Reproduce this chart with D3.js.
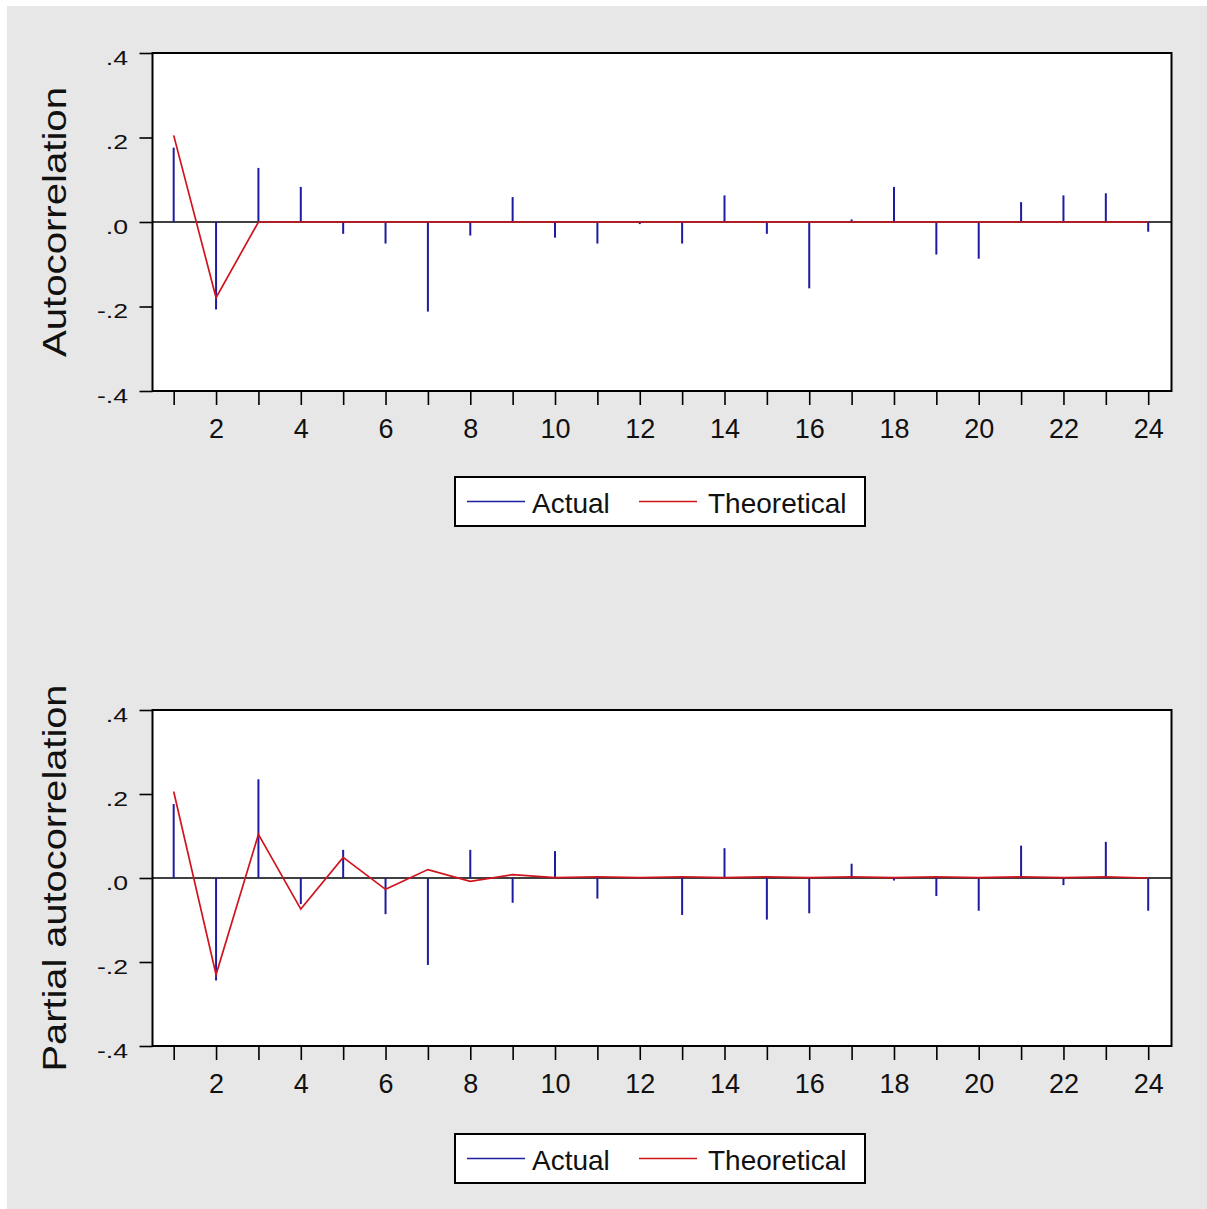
<!DOCTYPE html>
<html>
<head>
<meta charset="utf-8">
<script src="https://cdn.jsdelivr.net/npm/d3@7"></script>
<style>
  html, body { margin: 0; padding: 0; background: #ffffff; }
  svg { display: block; }
  text { font-family: "Liberation Sans", Arial, sans-serif; fill: #111; }
</style>
</head>
<body>
<svg id="chart" width="1207" height="1209"></svg>
<script>
// ---------------- data ----------------
const lags = [1,2,3,4,5,6,7,8,9,10,11,12,13,14,15,16,17,18,19,20,21,22,23,24];
const xTickLabels = ["", "2", "", "4", "", "6", "", "8", "", "10", "", "12", "", "14", "", "16", "", "18", "", "20", "", "22", "", "24"];
const yTicks = [0.4, 0.2, 0.0, -0.2, -0.4];
const yTickLabels = [".4", ".2", ".0", "-.2", "-.4"];
const seriesNames = ["Actual", "Theoretical"];

const acfActual = [0.176, -0.207, 0.128, 0.083, -0.028, -0.051, -0.212, -0.032, 0.059, -0.037, -0.051, -0.005,
                   -0.051, 0.063, -0.028, -0.157, 0.006, 0.083, -0.077, -0.087, 0.047, 0.063, 0.068, -0.023];
const acfTheoretical = [0.205, -0.179, 0, 0, 0, 0, 0, 0, 0, 0, 0, 0,
                        0, 0, 0, 0, 0, 0, 0, 0, 0, 0, 0, 0];
const pacfActual = [0.176, -0.244, 0.235, -0.062, 0.067, -0.086, -0.207, 0.067, -0.059, 0.064, -0.049, 0.0,
                    -0.088, 0.071, -0.099, -0.084, 0.034, -0.006, -0.043, -0.078, 0.077, -0.017, 0.086, -0.078];
const pacfTheoretical = [0.206, -0.230, 0.104, -0.074, 0.049, -0.027, 0.020, -0.008, 0.008, 0.001, 0.003, 0.001,
                         0.003, 0.001, 0.003, 0.001, 0.003, 0.001, 0.003, 0.001, 0.003, 0.001, 0.003, 0.000];

// ---------------- layout ----------------
const BLUE = "#1c1ca0";
const RED = "#d0141e";
const svg = d3.select("#chart");

svg.append("rect").attr("x", 0).attr("y", 0).attr("width", 1207).attr("height", 1209).attr("fill", "#ffffff");
svg.append("rect").attr("x", 7).attr("y", 6).attr("width", 1200).attr("height", 1203).attr("fill", "#e7e7e7");

const panels = [
  { title: "Autocorrelation", actual: acfActual, theo: acfTheoretical,
    top: 53, bottom: 391, titleLen: 270, legendTop: 477 },
  { title: "Partial autocorrelation", actual: pacfActual, theo: pacfTheoretical,
    top: 710, bottom: 1046, titleLen: 387, legendTop: 1134 }
];

const left = 152.5, right = 1171.5;
const x = d3.scaleLinear().domain([0.5, 24.55]).range([left, right]);

panels.forEach(p => {
  const y = d3.scaleLinear().domain([-0.4, 0.4]).range([p.bottom, p.top]);
  const g = svg.append("g");

  // plot area
  g.append("rect")
    .attr("x", left).attr("y", p.top)
    .attr("width", right - left).attr("height", p.bottom - p.top)
    .attr("fill", "#ffffff");

  // zero line
  g.append("line")
    .attr("x1", left).attr("x2", right)
    .attr("y1", y(0)).attr("y2", y(0))
    .attr("stroke", "#000").attr("stroke-width", 1.6);

  // actual spikes
  g.selectAll("line.spike")
    .data(lags.map((l, i) => ({ lag: l, v: p.actual[i] })))
    .enter().append("line")
    .attr("class", "spike")
    .attr("x1", d => x(d.lag)).attr("x2", d => x(d.lag))
    .attr("y1", y(0)).attr("y2", d => y(d.v))
    .attr("stroke", BLUE).attr("stroke-width", 2);

  // theoretical line
  const line = d3.line().x((d, i) => x(lags[i])).y(d => y(d));
  g.append("path")
    .datum(p.theo)
    .attr("d", line)
    .attr("fill", "none")
    .attr("stroke", RED).attr("stroke-width", 1.7)
    .attr("stroke-linejoin", "miter");

  // frame
  g.append("rect")
    .attr("x", left).attr("y", p.top)
    .attr("width", right - left).attr("height", p.bottom - p.top)
    .attr("fill", "none").attr("stroke", "#000").attr("stroke-width", 2);

  // x axis
  const xAxis = d3.axisBottom(x)
    .tickValues(lags)
    .tickSize(14)
    .tickPadding(0)
    .tickFormat((d, i) => xTickLabels[i]);
  const xg = g.append("g").attr("transform", `translate(0,${p.bottom})`).call(xAxis);
  xg.select(".domain").remove();
  xg.selectAll(".tick line").attr("stroke", "#000").attr("stroke-width", 1.6);
  xg.selectAll(".tick text")
    .attr("y", 47).attr("dy", 0)
    .attr("font-size", 27)
    .attr("font-family", "'Liberation Sans', Arial, sans-serif")
    .attr("fill", "#111");

  // y axis
  const yAxis = d3.axisLeft(y)
    .tickValues(yTicks)
    .tickSize(13)
    .tickFormat((d, i) => yTickLabels[i]);
  const yg = g.append("g").attr("transform", `translate(${left},0)`).call(yAxis);
  yg.select(".domain").remove();
  yg.selectAll(".tick line").attr("stroke", "#000").attr("stroke-width", 1.6);
  yg.selectAll(".tick text")
    .attr("x", 0).attr("dy", 0)
    .attr("text-anchor", "end")
    .attr("transform", "translate(-24.5,11) scale(1.3,1)")
    .attr("font-size", 20.5)
    .attr("font-family", "'Liberation Sans', Arial, sans-serif")
    .attr("fill", "#111");

  // y title
  const cy = (p.top + p.bottom) / 2;
  g.append("text")
    .attr("transform", `translate(66,${cy}) rotate(-90)`)
    .attr("text-anchor", "middle")
    .attr("font-size", 34)
    .attr("textLength", p.titleLen)
    .attr("lengthAdjust", "spacingAndGlyphs")
    .text(p.title);

  // legend
  const lg = g.append("g").attr("transform", `translate(0,${p.legendTop})`);
  lg.append("rect")
    .attr("x", 455).attr("y", 0).attr("width", 410).attr("height", 49)
    .attr("fill", "#ffffff").attr("stroke", "#000").attr("stroke-width", 2);
  const items = [
    { name: seriesNames[0], color: BLUE, x1: 467, x2: 525, tx: 532 },
    { name: seriesNames[1], color: RED, x1: 639, x2: 697, tx: 708 }
  ];
  items.forEach(it => {
    lg.append("line")
      .attr("x1", it.x1).attr("x2", it.x2)
      .attr("y1", 24.5).attr("y2", 24.5)
      .attr("stroke", it.color).attr("stroke-width", 1.6);
    lg.append("text")
      .attr("x", it.tx).attr("y", 36)
      .attr("font-size", 28)
      .text(it.name);
  });
});
</script>
</body>
</html>
